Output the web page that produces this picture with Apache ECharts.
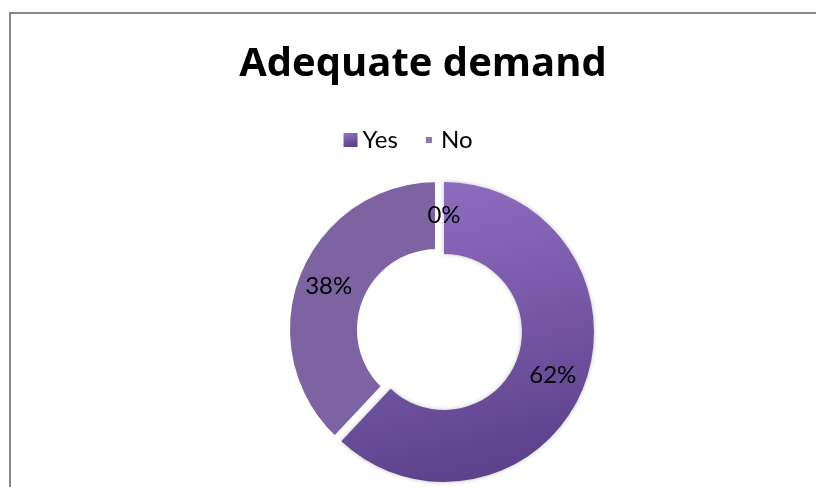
<!DOCTYPE html>
<html>
<head>
<meta charset="utf-8">
<script src="https://cdn.jsdelivr.net/npm/echarts@6/dist/echarts.min.js"></script>
<style>
  html, body { margin: 0; padding: 0; background: #fff; }
  #chart { width: 816px; height: 487px; }
</style>
</head>
<body>
<div id="chart"></div>
<script>
// Survey answers: share of respondents per answer (percent)
const categories = ['Yes', 'No', ''];
const shares = [62, 38, 0];
const legendNames = ['Yes', 'No'];

const yesFill = {
  type: 'linear', x: 0, y: 0, x2: 0.3, y2: 1,
  colorStops: [
    { offset: 0, color: '#9170c2' },
    { offset: 0.5, color: '#7a5aaa' },
    { offset: 1, color: '#5c438c' }
  ]
};
const noFill = '#7e63a2';
const sliceFills = [yesFill, noFill, '#8b6cb5'];

const chart = echarts.init(document.getElementById('chart'), null, { renderer: 'canvas' });

chart.setOption({
  backgroundColor: '#ffffff',
  animation: false,
  title: {
    text: 'Adequate demand',
    left: 418,
    top: 40,
    textAlign: 'center',
    textStyle: {
      fontFamily: 'Open Sans',
      fontWeight: 'bold',
      fontSize: 40,
      color: '#000'
    }
  },
  legend: {
    data: [
      { name: legendNames[0], icon: 'rect', itemStyle: { color: yesFill } },
      { name: legendNames[1], icon: 'rect', itemStyle: { color: '#8d73b2', borderColor: '#fff', borderWidth: 8 } }
    ],
    left: 'center',
    top: 123,
    itemWidth: 14,
    itemHeight: 14,
    itemGap: 20,
    selectedMode: false,
    textStyle: { fontFamily: 'Lato', fontSize: 24, color: '#000' }
  },
  graphic: [{
    type: 'rect',
    shape: { x: 10, y: 13, width: 900, height: 600 },
    style: { fill: 'none', stroke: '#878787', lineWidth: 2 },
    silent: true
  }],
  series: [{
    type: 'pie',
    center: [444, 332],
    radius: [78, 150],
    startAngle: 90,
    clockwise: true,
    avoidLabelOverlap: false,
    selectedMode: 'single',
    selectedOffset: 7,
    label: {
      show: true,
      position: 'inside',
      formatter: p => p.value + '%',
      fontFamily: 'Lato',
      fontSize: 24,
      color: '#000'
    },
    labelLine: { show: false },
    emphasis: { disabled: true },
    data: categories.map((name, i) => ({
      name: name,
      value: shares[i],
      selected: name === 'No',
      itemStyle: {
        color: sliceFills[i],
        borderColor: name === 'No' ? '#fff' : 'rgba(255,255,255,0)',
        borderWidth: name === 'No' ? 5 : 0,
        shadowColor: name === 'Yes' ? 'rgba(0,0,0,0.25)' : 'rgba(0,0,0,0)',
        shadowBlur: name === 'Yes' ? 4 : 0
      }
    }))
  }]
});
</script>
</body>
</html>
